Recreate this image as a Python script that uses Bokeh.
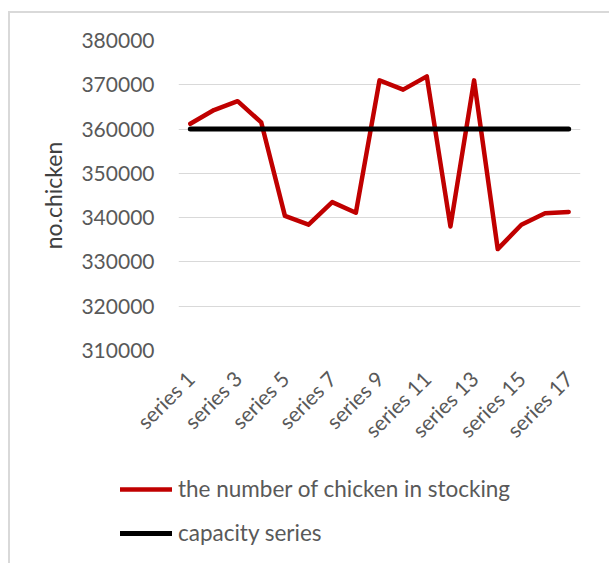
from bokeh.plotting import figure
from bokeh.layouts import column
from bokeh.models import FixedTicker, Legend, LegendItem, BasicTickFormatter
from bokeh.embed import file_html
from bokeh.resources import INLINE

categories = ["series 1", "series 2", "series 3", "series 4", "series 5", "series 6",
              "series 7", "series 8", "series 9", "series 10", "series 11", "series 12",
              "series 13", "series 14", "series 15", "series 16", "series 17"]
stocking = [361200, 364300, 366300, 361500, 340400, 338400, 343500, 341100, 371000,
            368900, 371900, 338000, 371000, 332900, 338400, 341000, 341300]
capacity = [360000] * 17
y_ticks = [310000, 320000, 330000, 340000, 350000, 360000, 370000, 380000]
series_names = ["the number of chicken in stocking", "capacity series"]

xs = list(range(1, len(categories) + 1))
RED = "#c00000"
BLACK = "#000000"

p = figure(width=599, height=440, output_backend="svg", toolbar_location=None,
           x_range=(0.5, len(categories) + 0.5), y_range=(310000, 380000),
           min_border_left=168, min_border_right=29, min_border_top=27, min_border_bottom=101)
p.frame_align = False
p.outline_line_color = None
p.background_fill_color = "white"
p.border_fill_color = "white"

p.line(xs, stocking, line_color=RED, line_width=4.5, line_join="round", line_cap="round")
p.line(xs, capacity, line_color=BLACK, line_width=5, line_cap="round")

p.xgrid.grid_line_color = None
p.ygrid.grid_line_color = "#d9d9d9"
p.ygrid.grid_line_width = 1

p.yaxis.ticker = FixedTicker(ticks=y_ticks)
p.yaxis.formatter = BasicTickFormatter(use_scientific=False)
p.yaxis.axis_line_color = None
p.yaxis.major_tick_line_color = None
p.yaxis.minor_tick_line_color = None
p.yaxis.major_label_text_font = "Lato"
p.yaxis.major_label_text_font_size = "21px"
p.yaxis.major_label_text_color = "#595959"
p.yaxis.major_label_standoff = 18
p.yaxis.axis_label = "no.chicken"
p.yaxis.axis_label_text_font = "Lato"
p.yaxis.axis_label_text_font_style = "normal"
p.yaxis.axis_label_text_font_size = "23px"
p.yaxis.axis_label_text_color = "#404040"
p.yaxis.axis_label_standoff = 11

p.xaxis.ticker = FixedTicker(ticks=xs[::2])
p.xaxis.major_label_overrides = {x: c for x, c in zip(xs, categories)}
p.xaxis.major_label_orientation = 0.785398
p.xaxis.axis_line_color = None
p.xaxis.major_tick_line_color = None
p.xaxis.minor_tick_line_color = None
p.xaxis.major_label_text_font = "Lato"
p.xaxis.major_label_text_font_size = "21px"
p.xaxis.major_label_text_color = "#595959"
p.xaxis.major_label_standoff = 18

# legend panel: same series drawn outside its visible range, only their legend entries show
q = figure(width=599, height=110, output_backend="svg", toolbar_location=None,
           x_range=(0.5, len(categories) + 0.5), y_range=(0, 1),
           x_axis_location=None, y_axis_location=None,
           min_border_left=0, min_border_right=0, min_border_top=0, min_border_bottom=0)
q.frame_align = False
q.outline_line_color = None
q.grid.grid_line_color = None
q.background_fill_color = "white"
q.border_fill_color = "white"
l1 = q.line(xs, stocking, line_color=RED, line_width=4.5, line_cap="round")
l2 = q.line(xs, capacity, line_color=BLACK, line_width=5, line_cap="round")

legend = Legend(items=[LegendItem(label=series_names[0], renderers=[l1]),
                       LegendItem(label=series_names[1], renderers=[l2])],
                location=(110, 17), orientation="vertical")
legend.glyph_width = 52
legend.glyph_height = 20
legend.label_height = 20
legend.spacing = 17
legend.padding = 0
legend.margin = 0
legend.label_standoff = 6
legend.border_line_color = None
legend.background_fill_alpha = 0
legend.label_text_font = "Lato"
legend.label_text_font_size = "22.5px"
legend.label_text_color = "#595959"
q.add_layout(legend, "center")

layout = column(p, q, spacing=0, margin=(11, 0, 0, 8),
                styles={"border-left": "2px solid #d9d9d9", "border-top": "2px solid #d9d9d9"})
open("out.html", "w").write(file_html(layout, INLINE))
